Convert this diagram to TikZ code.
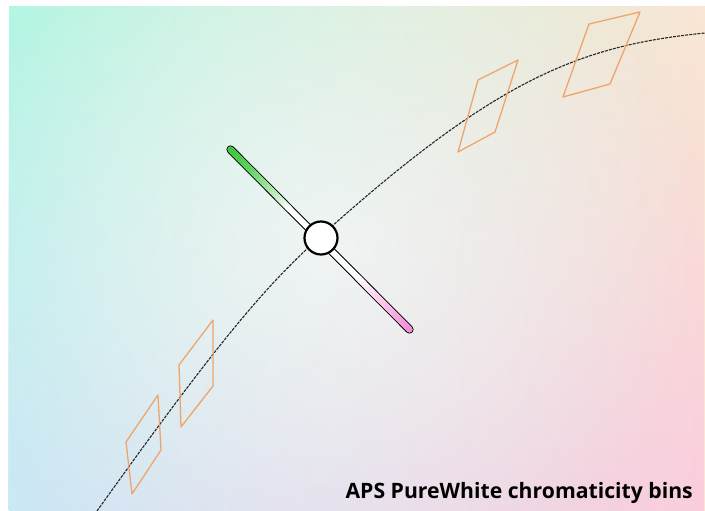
\documentclass[tikz,border=0pt]{standalone}
\usepackage{fontspec}
\setsansfont{Open Sans}
\RequirePackage{tikz}
\RequirePackage{tkz-euclide}
\usetikzlibrary{calc}
\usetikzlibrary{fadings}

\definecolor{bgtl}{RGB}{180,246,228}
\definecolor{bgtr}{RGB}{249,231,212}
\definecolor{bgbl}{RGB}{204,232,246}
\definecolor{bgbr}{RGB}{251,205,221}
\definecolor{binorange}{RGB}{238,165,108}
\definecolor{tintgreen}{RGB}{60,200,60}
\definecolor{tintpink}{RGB}{245,140,215}
\tikzfading[name=glowfade, inner color=transparent!40, outer color=transparent!100]

\begin{document}
\begin{tikzpicture}[x=1bp,y=-1bp]
                \useasboundingbox (0,0) rectangle (705,511);
                \shade[left color=bgtl, right color=bgtr] (9,7) rectangle (705,511);
                \shade[left color=bgbl, right color=bgbr, path fading=north] (9,7) rectangle (705,511);
                \begin{scope}
                    \clip (9,7) rectangle (705,511);
                    \fill[white, path fading=glowfade] (320,250) circle[radius=380];
                \end{scope}

                \tkzDefPoint(97,511){L1}
                \tkzDefPoint(321,236){L2}
                \tkzDefPoint(705,33){L3}
                \draw[line width=1.1bp, dash pattern=on 3bp off 1.1bp, black!85]
                    (L1) .. controls (221.8,336.3) and (267,284.7) .. (L2)
                    .. controls (495.9,78.6) and (580.2,45.5) .. (L3);

                \tkzDefPoint(213,320){C1}
                \tkzDefPoint(179,365){C2}
                \tkzDefPoint(181,427){C3}
                \tkzDefPoint(213,386){C4}
                \tkzDefPoint(158,395){D1}
                \tkzDefPoint(126,442){D2}
                \tkzDefPoint(132,494){D3}
                \tkzDefPoint(161,450){D4}
                \tkzDefPoint(518,60){A1}
                \tkzDefPoint(478,80){A2}
                \tkzDefPoint(458,152){A3}
                \tkzDefPoint(495,132){A4}
                \tkzDefPoint(640,12){B1}
                \tkzDefPoint(589,24){B2}
                \tkzDefPoint(563,97){B3}
                \tkzDefPoint(610,84){B4}

                \tkzDrawPolygon[color=binorange, line width=1.3bp](C1,C2,C3,C4)
                \tkzDrawPolygon[color=binorange, line width=1.3bp](D1,D2,D3,D4)
                \tkzDrawPolygon[color=binorange, line width=1.3bp](A1,A2,A3,A4)
                \tkzDrawPolygon[color=binorange, line width=1.3bp](B1,B2,B3,B4)

                \tkzDefPoint(230.5,149.5){G}
                \tkzDefPoint(409.5,329.5){P}
                \tkzDefPoint(321,238){W}

                \draw[line width=8.2bp, line cap=round] (G) -- (P);
                \draw[white, line width=6bp, line cap=round] (G) -- (P);
                \fill[tintgreen] (G) circle[radius=3];
                \fill[tintpink] (P) circle[radius=3];
                \foreach \i in {1,...,28} {
                    \pgfmathsetmacro\ta{(\i-1)*0.33/28}
                    \pgfmathsetmacro\tb{\i*0.33/28+0.004}
                    \pgfmathtruncatemacro\mixa{100-100*((\i-0.5)/28)^1.5}
                    \draw[tintgreen!\mixa!white, line width=6bp] ($(G)!\ta!(P)$) -- ($(G)!\tb!(P)$);
                    \pgfmathsetmacro\tc{0.71+(\i-1)*0.29/28-0.004}
                    \pgfmathsetmacro\td{0.71+\i*0.29/28}
                    \pgfmathtruncatemacro\mixb{100*(\i-0.5)/28}
                    \draw[tintpink!\mixb!white, line width=6bp] ($(G)!\tc!(P)$) -- ($(G)!\td!(P)$);
                }

                \draw[fill=white, line width=2.2bp] (W) circle[radius=16.5];

                \node[anchor=base east, inner sep=0pt, font=\sffamily\bfseries\fontsize{21.2bp}{25bp}\selectfont]
                    (title) at (693,498) {APS PureWhite chromaticity bins};
\end{tikzpicture}
\end{document}
